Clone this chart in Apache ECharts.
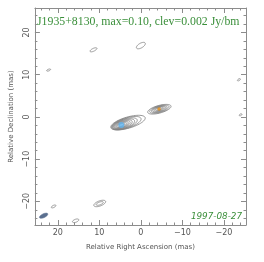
<!DOCTYPE html>
<html><head><meta charset="utf-8">
<script src="https://cdn.jsdelivr.net/npm/echarts@6/dist/echarts.min.js"></script>
<style>html,body{margin:0;padding:0;background:#fff}#c{width:264px;height:262px}</style>
</head><body><div id="c"></div>
<script>
// Tick values / labels (mas)
const majorTicks = [-20, -10, 0, 10, 20];
const minorTicks = [-24,-22,-18,-16,-14,-12,-8,-6,-4,-2,2,4,6,8,12,14,16,18,22,24];
const tickLabels = ['\u221220', '\u221210', '0', '10', '20'];

// Contours: [RA offset, Dec offset, semi-major, semi-minor, tilt deg]
const mainContours = [
  [4.7, -1.9, 0.6, 0.28, 17],
  [4.7, -1.9, 0.95, 0.4, 17],
  [4.65, -1.88, 1.3, 0.52, 17],
  [4.6, -1.85, 1.65, 0.64, 17],
  [4.5, -1.8, 2.0, 0.76, 17],
  [4.35, -1.75, 2.35, 0.88, 17],
  [4.15, -1.7, 2.75, 1.0, 17],
  [3.9, -1.6, 3.15, 1.1, 17],
  [3.5, -1.47, 3.7, 1.22, 17],
  [3.1, -1.35, 4.3, 1.32, 16]
];
const secondaryContours = [
  [-4.4, 1.9, 0.55, 0.25, 15],
  [-4.4, 1.9, 0.9, 0.37, 15],
  [-4.4, 1.89, 1.25, 0.48, 15],
  [-4.42, 1.87, 1.6, 0.58, 15],
  [-4.44, 1.85, 1.95, 0.68, 15],
  [-4.45, 1.84, 2.4, 0.79, 15],
  [-4.45, 1.82, 2.9, 0.9, 15]
];
const noiseContours = [
  [22.2, 11.1, 0.5, 0.2, 20],
  [11.4, 15.9, 0.9, 0.33, 25],
  [0.0, 16.9, 1.2, 0.55, 30],
  [-23.6, 8.8, 0.4, 0.2, 30],
  [-24.0, 0.5, 0.35, 0.2, 30],
  [21.0, -21.2, 0.6, 0.25, 25],
  [9.9, -20.5, 1.5, 0.6, 20],
  [9.9, -20.5, 0.9, 0.33, 20],
  [15.7, -24.6, 0.8, 0.35, 20]
];
const beam = [[23.4, -23.4, 1.1, 0.45, 25]];
const peakMain = [[4.7, -1.9]];
const peakSecondary = [[-4.4, 1.9]];

const titleText = 'J1935+8130, max=0.10, clev=0.002 Jy/bm';
const dateText = '1997-08-27';

function ellipseRender(fill) {
  return function (params, api) {
    const cx = api.value(0), cy = api.value(1), a = api.value(2), b = api.value(3);
    const t = api.value(4) * Math.PI / 180;
    const pts = [];
    const N = 60;
    for (let k = 0; k < N; k++) {
      const u = 2 * Math.PI * k / N;
      const ex = a * Math.cos(u), ey = b * Math.sin(u);
      const vx = ex * Math.cos(t) - ey * Math.sin(t);
      const vy = ex * Math.sin(t) + ey * Math.cos(t);
      pts.push(api.coord([cx - vx, cy + vy]));
    }
    return {
      type: 'polygon',
      shape: { points: pts },
      style: fill ? { fill: '#5a6f8f', stroke: '#5a6f8f', lineWidth: 0.5 }
                  : { fill: 'none', stroke: '#7f7f7f', lineWidth: 0.8 }
    };
  };
}

const X0 = -25.3, X1 = 25.5, Y0 = -25.6, Y1 = 25.8;
const lineStyle = { color: '#8c8c8c', width: 1 };
function xAx(pos, ticks, len, labels, line, name) {
  return {
    type: 'value', position: pos, inverse: true, min: X0, max: X1,
    axisLine: { show: line, lineStyle: lineStyle, onZero: false },
    axisTick: { show: true, inside: true, length: len, customValues: ticks, lineStyle: { color: '#8c8c8c' } },
    axisLabel: labels ? { show: true, customValues: majorTicks, margin: 4, color: '#555', fontSize: 8, fontFamily: 'DejaVu Sans',
      formatter: v => tickLabels[majorTicks.indexOf(v)] } : { show: false },
    splitLine: { show: false },
    name: name || '', nameLocation: 'middle', nameGap: 19,
    nameTextStyle: { color: '#555', fontSize: 7, fontFamily: 'DejaVu Sans' }
  };
}
function yAx(pos, ticks, len, labels, line, name) {
  return {
    type: 'value', position: pos, min: Y0, max: Y1,
    axisLine: { show: line, lineStyle: lineStyle, onZero: false },
    axisTick: { show: true, inside: true, length: len, customValues: ticks, lineStyle: { color: '#8c8c8c' } },
    axisLabel: labels ? { show: true, customValues: majorTicks, margin: 4, rotate: 90, color: '#555', fontSize: 8, fontFamily: 'DejaVu Sans',
      formatter: v => tickLabels[majorTicks.indexOf(v)] } : { show: false },
    splitLine: { show: false },
    name: name || '', nameLocation: 'middle', nameGap: 17, nameRotate: 90,
    nameTextStyle: { color: '#555', fontSize: 7, fontFamily: 'DejaVu Sans' }
  };
}

const chart = echarts.init(document.getElementById('c'), null, { renderer: 'canvas' });
chart.setOption({
  animation: false,
  backgroundColor: '#fff',
  grid: { left: 31, right: 18, top: 8, bottom: 37 },
  title: [
    { text: titleText, left: 32, top: 11, textStyle: { color: '#3a8f3a', fontSize: 11.8, fontWeight: 'normal', fontFamily: 'Liberation Serif' } },
    { text: dateText, right: 17, top: 207, textStyle: { color: '#3a8f3a', fontSize: 8.8, fontStyle: 'italic', fontWeight: 'normal', fontFamily: 'DejaVu Sans' } }
  ],
  xAxis: [
    xAx('bottom', majorTicks, 5, true, true, 'Relative Right Ascension (mas)'),
    xAx('bottom', minorTicks, 2.5, false, false),
    xAx('top', majorTicks, 5, false, true),
    xAx('top', minorTicks, 2.5, false, false)
  ],
  yAxis: [
    yAx('left', majorTicks, 5, true, true, 'Relative Declination (mas)'),
    yAx('left', minorTicks, 2.5, false, false),
    yAx('right', majorTicks, 5, false, true),
    yAx('right', minorTicks, 2.5, false, false)
  ],
  series: [
    { type: 'custom', name: 'main', renderItem: ellipseRender(false), data: mainContours, clip: true, encode: { x: 0, y: 1 } },
    { type: 'custom', name: 'secondary', renderItem: ellipseRender(false), data: secondaryContours, clip: true, encode: { x: 0, y: 1 } },
    { type: 'custom', name: 'noise', renderItem: ellipseRender(false), data: noiseContours, clip: true, encode: { x: 0, y: 1 } },
    { type: 'custom', name: 'beam', renderItem: ellipseRender(true), data: beam, clip: true, encode: { x: 0, y: 1 } },
    { type: 'scatter', data: peakMain, symbolSize: 6, itemStyle: { color: '#5fb4f0' }, z: 5 },
    { type: 'scatter', data: peakSecondary, symbolSize: 3.5, itemStyle: { color: '#e08a10' }, z: 5 }
  ]
});
</script></body></html>
